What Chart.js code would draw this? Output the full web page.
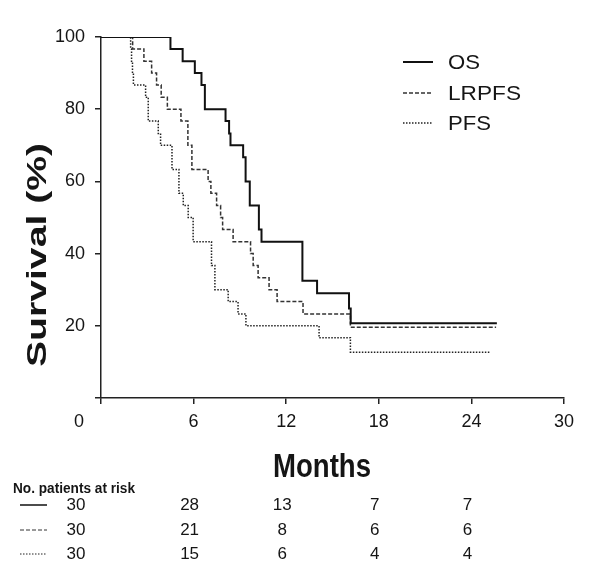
<!DOCTYPE html>
<html>
<head>
<meta charset="utf-8">
<script src="https://cdn.jsdelivr.net/npm/chart.js@4.4.0/dist/chart.umd.min.js"></script>
<style>
html, body { margin: 0; padding: 0; background: #fff; }
</style>
</head>
<body>
<canvas id="kmChart" width="600" height="574"></canvas>
<script>
// Kaplan-Meier steps (months, survival %)
var osMonths  = [0, 4.5, 5.29, 6.08, 6.51, 6.73, 8.07, 8.3, 8.39, 9.21, 9.37, 9.64, 10.23, 10.4, 13.05, 14.0, 16.07, 16.18, 25.65];
var osSurv    = [100, 96.7, 93.3, 90, 86.7, 80, 76.7, 73.3, 70, 66.7, 60, 53.3, 46.7, 43.3, 32.5, 29, 24.8, 20.7, 20.7];

var lrMonths  = [0, 2.05, 2.78, 3.28, 3.6, 3.9, 4.3, 5.18, 5.63, 5.89, 6.94, 7.12, 7.49, 7.75, 7.88, 8.56, 9.69, 9.86, 10.18, 10.89, 11.41, 13.09, 16.16, 25.6];
var lrSurv    = [100, 96.7, 93.3, 90, 86.7, 83.3, 80, 76.7, 70, 63.3, 60, 56.7, 53.3, 50, 46.7, 43.3, 40, 36.7, 33.3, 30, 26.7, 23.3, 19.6, 19.6];

var pfsMonths = [0, 1.92, 1.98, 2.04, 2.1, 2.89, 3.06, 3.71, 3.86, 4.6, 5.05, 5.33, 5.65, 5.97, 7.16, 7.38, 8.24, 8.88, 9.39, 14.13, 16.16, 25.2];
var pfsSurv   = [100, 96.7, 93.3, 90, 86.7, 83.3, 76.7, 73.3, 70, 63.3, 56.7, 53.3, 50, 43.3, 36.7, 30, 26.7, 23.3, 20, 16.7, 12.7, 12.7];

var seriesNames = ['OS', 'LRPFS', 'PFS'];
var xTicks = [0, 6, 12, 18, 24, 30];
var yTicks = [0, 20, 40, 60, 80, 100];

// number at risk table
var riskMonths = [0, 6, 12, 18, 24];
var osRisk  = [30, 28, 13, 7, 7];
var lrRisk  = [30, 21, 8, 6, 6];
var pfsRisk = [30, 15, 6, 4, 4];

var FONT = '"Liberation Sans", Arial, Helvetica, sans-serif';
var INK = '#151515';

function toPoints(xs, ys) {
    var pts = [];
    for (var i = 0; i < xs.length; i++) pts.push({x: xs[i], y: ys[i]});
    return pts;
}

// draws text squeezed/stretched to a given width
function fitText(ctx, text, x, y, font, width, align) {
    ctx.save();
    ctx.font = font;
    var w = ctx.measureText(text).width;
    var s = width / w;
    ctx.translate(x, y);
    ctx.scale(s, 1);
    ctx.textAlign = align || 'left';
    ctx.fillText(text, 0, 0);
    ctx.restore();
}

var extras = {
    id: 'extras',
    afterDraw: function(chart) {
        var ctx = chart.ctx;
        var xs = chart.scales.x;
        var sets = chart.data.datasets;
        ctx.save();
        ctx.fillStyle = INK;
        ctx.textBaseline = 'middle';

        // x tick labels
        ctx.font = '18px ' + FONT;
        ctx.textAlign = 'center';
        xTicks.forEach(function(v) {
            var px = xs.getPixelForValue(v) - (v === 0 ? 22 : 0);
            ctx.fillText(String(v), px, 422);
        });

        // axis titles
        ctx.textBaseline = 'alphabetic';
        fitText(ctx, 'Months', 322, 477, 'bold 34px ' + FONT, 98, 'center');
        ctx.save();
        ctx.translate(46, 255);
        ctx.rotate(-Math.PI / 2);
        fitText(ctx, 'Survival (%)', 0, 0, 'bold 28px ' + FONT, 224, 'center');
        ctx.restore();

        // legend
        var legY = [62, 93, 123];
        var legW = [32, 73, 43];
        sets.forEach(function(ds, i) {
            ctx.save();
            ctx.strokeStyle = ds.borderColor;
            ctx.lineWidth = ds.borderWidth;
            ctx.setLineDash(ds.borderDash || []);
            ctx.beginPath();
            ctx.moveTo(403, legY[i]);
            ctx.lineTo(433, legY[i]);
            ctx.stroke();
            ctx.restore();
            ctx.textBaseline = 'middle';
            fitText(ctx, ds.label, 448, legY[i] + 1, '21px ' + FONT, legW[i], 'left');
        });

        // number at risk
        ctx.textBaseline = 'middle';
        fitText(ctx, 'No. patients at risk', 13, 489, 'bold 14px ' + FONT, 122, 'left');
        var rows = [osRisk, lrRisk, pfsRisk];
        var rowY = [505, 530, 554];
        rows.forEach(function(row, r) {
            var ds = sets[r];
            ctx.save();
            ctx.strokeStyle = ds.borderColor;
            ctx.lineWidth = r === 0 ? 1.5 : 1;
            ctx.setLineDash(ds.borderDash || []);
            ctx.beginPath();
            ctx.moveTo(20, rowY[r]);
            ctx.lineTo(47, rowY[r]);
            ctx.stroke();
            ctx.restore();
            ctx.font = '17px ' + FONT;
            ctx.textAlign = 'center';
            row.forEach(function(n, i) {
                var px = xs.getPixelForValue(riskMonths[i]) - (riskMonths[i] === 0 ? 25 : 4);
                ctx.fillText(String(n), px, rowY[r]);
            });
        });
        ctx.restore();
    }
};

var ctx = document.getElementById('kmChart').getContext('2d');
var kmChart = new Chart(ctx, {
    type: 'line',
    data: {
        datasets: [{
            label: seriesNames[0],
            data: toPoints(osMonths, osSurv),
            borderColor: '#111',
            borderWidth: 2,
            borderDash: [],
            stepped: 'before',
            pointRadius: 0,
            fill: false
        }, {
            label: seriesNames[1],
            data: toPoints(lrMonths, lrSurv),
            borderColor: '#333',
            borderWidth: 1.5,
            borderDash: [4, 2],
            stepped: 'before',
            pointRadius: 0,
            fill: false
        }, {
            label: seriesNames[2],
            data: toPoints(pfsMonths, pfsSurv),
            borderColor: '#222',
            borderWidth: 1.5,
            borderDash: [1.5, 1.5],
            stepped: 'before',
            pointRadius: 0,
            fill: false
        }]
    },
    options: {
        responsive: false,
        animation: false,
        layout: { padding: { left: 0, top: 37, right: 36, bottom: 0 } },
        plugins: {
            legend: { display: false },
            tooltip: { enabled: false }
        },
        scales: {
            x: {
                type: 'linear',
                min: 0,
                max: 30,
                afterFit: function(scale) { scale.height = 176; },
                afterBuildTicks: function(scale) {
                    scale.ticks = xTicks.map(function(v) { return {value: v}; });
                },
                border: { display: true, color: '#222', width: 1.5 },
                grid: { drawOnChartArea: false, drawTicks: true, tickLength: 6, color: '#222', lineWidth: 1.5 },
                ticks: { display: false }
            },
            y: {
                min: 0,
                max: 100,
                afterFit: function(scale) { scale.width = 101; },
                afterBuildTicks: function(scale) {
                    scale.ticks = yTicks.map(function(v) { return {value: v}; });
                },
                border: { display: true, color: '#222', width: 1.5 },
                grid: { drawOnChartArea: false, drawTicks: true, tickLength: 6, color: '#222', lineWidth: 1.5 },
                ticks: {
                    color: INK,
                    padding: 10,
                    font: { family: FONT, size: 18 },
                    callback: function(v) { return v === 0 ? '' : v; }
                }
            }
        }
    },
    plugins: [extras]
});
</script>
</body>
</html>
